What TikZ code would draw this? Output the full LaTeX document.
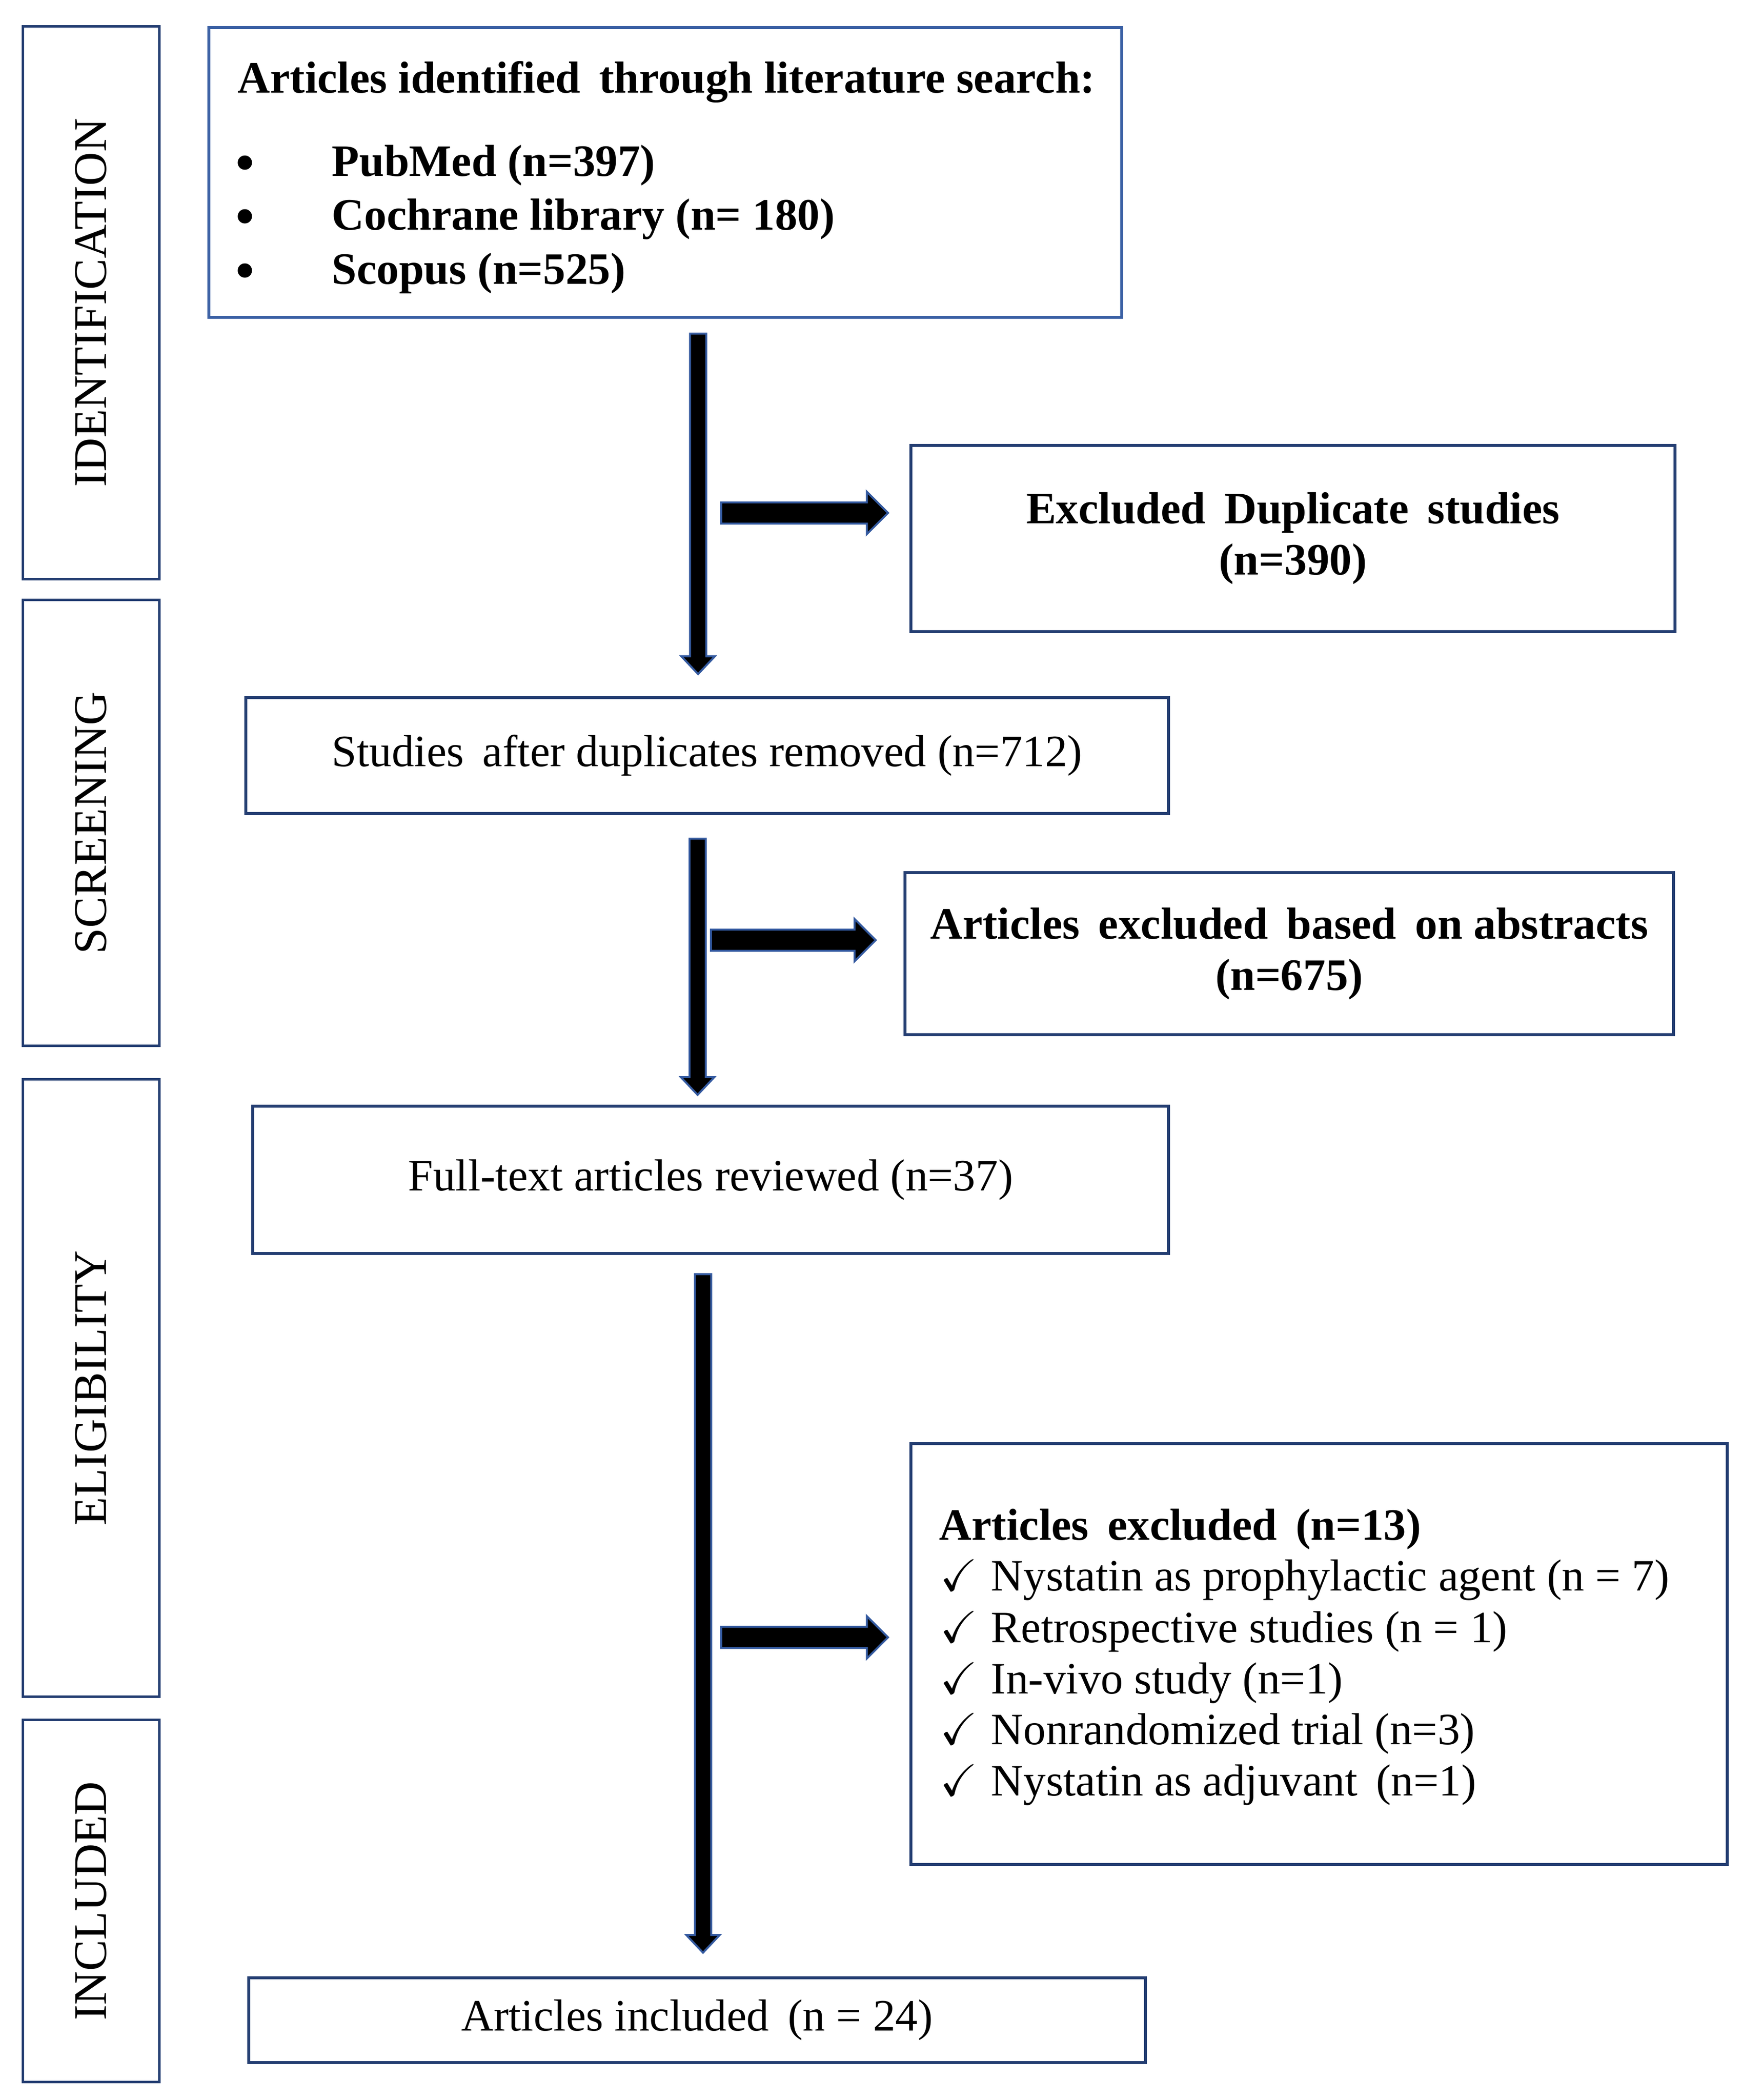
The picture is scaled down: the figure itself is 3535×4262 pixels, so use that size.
\documentclass[tikz,border=0pt]{standalone}
\usepackage{fontspec}
\usepackage{amssymb}
\setmainfont{Liberation Serif}
\usetikzlibrary{calc}
\definecolor{boxblue}{RGB}{36,62,114}
\definecolor{boxblueL}{RGB}{58,96,164}
\definecolor{arrowblue}{RGB}{52,90,160}
\newcommand\mainfs{\fontsize{25.9}{29.6}\selectfont}
\newcommand\stagefs{\fontsize{27}{30}\selectfont}
\newcommand\fatdown[2]{%
  \filldraw[fatarrow] ($(#1)+(-16.5,0)$) -- ($(#2)+(-16.5,-36)$) -- ($(#2)+(-34,-36)$) -- (#2)
    -- ($(#2)+(34,-36)$) -- ($(#2)+(16.5,-36)$) -- ($(#1)+(16.5,0)$) -- cycle;}
\newcommand\fatright[2]{%
  \filldraw[fatarrow] ($(#1)+(0,-21.5)$) -- ($(#2)+(-43,-21.5)$) -- ($(#2)+(-43,-43)$) -- (#2)
    -- ($(#2)+(-43,43)$) -- ($(#2)+(-43,21.5)$) -- ($(#1)+(0,21.5)$) -- cycle;}
\tikzset{
  stagebox/.style={draw=boxblue, line width=0.05cm, rectangle, inner sep=0pt, minimum width=2.76cm},
  stagelabel/.style={rotate=90, font=\stagefs, inner sep=0pt},
  flowbox/.style={draw=boxblue, line width=0.06cm, rectangle, inner sep=0pt, align=center, font=\mainfs},
  txt/.style={inner sep=0pt, anchor=base west, font=\mainfs},
  btxt/.style={inner sep=0pt, anchor=base west, font=\mainfs\bfseries},
  bulletdot/.style={circle, fill=black, inner sep=0pt, minimum size=0.29cm},
  fatarrow/.style={fill=black, draw=arrowblue, line width=0.04cm, line join=miter},
}
\begin{document}
\begin{tikzpicture}[x=0.01cm, y=-0.01cm]
\fill[white] (0,0) rectangle (3535,4262);
\useasboundingbox (0,0) rectangle (3535,4262);

% stage boxes
\node[stagebox, minimum height=11.21cm] (st1) at (185,614.5) {};
\node[stagebox, minimum height=9.04cm] (st2) at (185,1670) {};
\node[stagebox, minimum height=12.52cm] (st3) at (185,2817) {};
\node[stagebox, minimum height=7.34cm] (st4) at (185,3858) {};
\node[stagelabel] (st1t) at (st1.center) {IDENTIFICATION};
\node[stagelabel] (st2t) at (st2.center) {SCREENING};
\node[stagelabel] (st3t) at (st3.center) {ELIGIBILITY};
\node[stagelabel] (st4t) at (st4.center) {INCLUDED};

% box 1
\node[flowbox, draw=boxblueL, minimum width=18.51cm, minimum height=5.88cm] (b1) at (1350.5,350) {};
\node[btxt] (b1h) at (482,188) {Articles identified\, through literature search:};
\node[bulletdot] (bu1) at (497,330) {};
\node[bulletdot] (bu2) at (497,439) {};
\node[bulletdot] (bu3) at (497,549) {};
\node[btxt] (l1) at (673,357) {PubMed (n=397)};
\node[btxt] (l2) at (673,466) {Cochrane library (n= 180)};
\node[btxt] (l3) at (673,576) {Scopus (n=525)};

% excluded 1
\node[flowbox, minimum width=15.51cm, minimum height=3.78cm, font=\mainfs\bfseries] (ex1) at (2624.5,1093)
  {Excluded\, Duplicate\, studies\\(n=390)};

% box 2
\node[flowbox, minimum width=18.71cm, minimum height=2.35cm] (b2) at (1435.5,1533.5)
  {Studies\, after duplicates removed (n=712)};

% excluded 2
\node[flowbox, minimum width=15.60cm, minimum height=3.29cm, font=\mainfs\bfseries] (ex2) at (2617,1935.5)
  {Articles\, excluded\, based\, on abstracts\\(n=675)};

% box 3
\node[flowbox, minimum width=18.57cm, minimum height=2.99cm] (b3) at (1442.5,2394.5)
  {Full-text articles reviewed (n=37)};

% excluded 3
\node[flowbox, minimum width=16.56cm, minimum height=8.54cm] (ex3) at (2677,3357) {};
\node[btxt] (e3h) at (1906,3125) {Articles\, excluded\, (n=13)};
\node[txt] (e3a) at (1908,3228) {\checkmark\hspace{0.3em}Nystatin as prophylactic agent (n = 7)};
\node[txt] (e3b) at (1908,3333) {\checkmark\hspace{0.3em}Retrospective studies (n = 1)};
\node[txt] (e3c) at (1908,3437) {\checkmark\hspace{0.3em}In-vivo study (n=1)};
\node[txt] (e3d) at (1908,3540) {\checkmark\hspace{0.3em}Nonrandomized trial (n=3)};
\node[txt] (e3e) at (1908,3644) {\checkmark\hspace{0.3em}Nystatin as adjuvant\, (n=1)};

% box 4
\node[flowbox, minimum width=18.18cm, minimum height=1.72cm] (b4) at (1415,4100)
  {Articles included\, (n = 24)};

% arrows
\coordinate (a1s) at (1417,677);
\coordinate (a1e) at (1417,1368);
\coordinate (h1s) at (1464,1041);
\coordinate (h1e) at ($(ex1.west |- h1s)+(-43,0)$);
\coordinate (a2s) at (1416,1702);
\coordinate (a2e) at (1416,2222);
\coordinate (h2s) at (1443,1908);
\coordinate (h2e) at ($(ex2.west |- h2s)+(-56,0)$);
\coordinate (a3s) at (1427,2586);
\coordinate (a3e) at (1427,3963);
\coordinate (h3s) at (1464,3323);
\coordinate (h3e) at ($(ex3.west |- h3s)+(-43,0)$);

\fatdown{a1s}{a1e}
\fatright{h1s}{h1e}
\fatdown{a2s}{a2e}
\fatright{h2s}{h2e}
\fatdown{a3s}{a3e}
\fatright{h3s}{h3e}
\end{tikzpicture}
\end{document}
